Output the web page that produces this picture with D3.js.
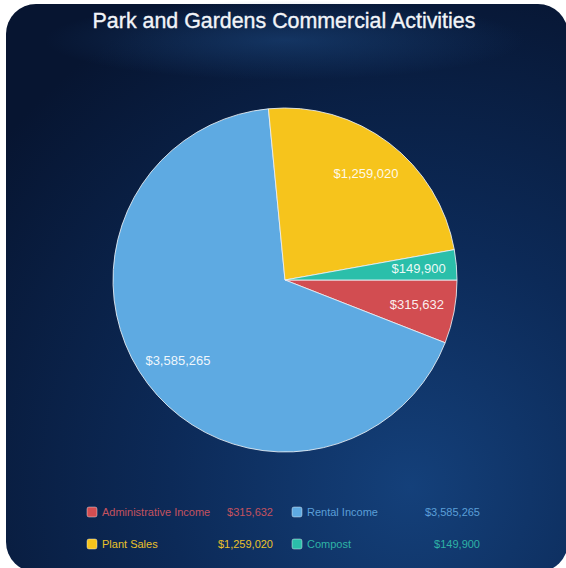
<!DOCTYPE html>
<html>
<head>
<meta charset="utf-8">
<script src="https://cdn.jsdelivr.net/npm/d3@7"></script>
<style>
  html, body { margin: 0; padding: 0; background: #ffffff; }
  svg { display: block; }
</style>
</head>
<body>
<svg id="chart" width="566" height="568"></svg>
<script>
// Commercial activity income by category
const categories = ["Administrative Income", "Rental Income", "Plant Sales", "Compost"];
const values = [315632, 3585265, 1259020, 149900];
const sliceColors = ["#d24d51", "#5eaae2", "#f6c41c", "#2bbfaa"];
const legendTextColors = ["#c4525f", "#5b9fd8", "#eac12a", "#2fb3a6"];
const valueLabels = ["$315,632", "$3,585,265", "$1,259,020", "$149,900"];
const title = "Park and Gardens Commercial Activities";

const svg = d3.select("#chart");

// Card background
const defs = svg.append("defs");
const bg = defs.append("radialGradient")
  .attr("id", "bgGrad")
  .attr("cx", "0.72").attr("cy", "0.85").attr("r", "0.95");
bg.append("stop").attr("offset", "0").attr("stop-color", "#14407a");
bg.append("stop").attr("offset", "0.45").attr("stop-color", "#0c2a58");
bg.append("stop").attr("offset", "1").attr("stop-color", "#071531");

const glow = defs.append("radialGradient")
  .attr("id", "topGlow")
  .attr("cx", "0.5").attr("cy", "0.5").attr("r", "0.5");
glow.append("stop").attr("offset", "0").attr("stop-color", "#1d4a82").attr("stop-opacity", 0.55);
glow.append("stop").attr("offset", "1").attr("stop-color", "#1d4a82").attr("stop-opacity", 0);

svg.append("rect")
  .attr("x", 6).attr("y", 4)
  .attr("width", 562).attr("height", 568)
  .attr("rx", 30).attr("ry", 30)
  .attr("fill", "url(#bgGrad)");

svg.append("ellipse")
  .attr("cx", 285).attr("cy", 40)
  .attr("rx", 240).attr("ry", 40)
  .attr("fill", "url(#topGlow)");

// Title
svg.append("text")
  .attr("x", 284).attr("y", 28)
  .attr("text-anchor", "middle")
  .attr("font-family", "Liberation Sans, Arial, sans-serif")
  .attr("font-size", 21.4)
  .attr("fill", "#f2f4f8")
  .attr("stroke", "#f2f4f8")
  .attr("stroke-width", 0.35)
  .text(title);

// Pie
const cx = 285, cy = 280, R = 172;
const pie = d3.pie().sort(null)
  .startAngle(Math.PI / 2)
  .endAngle(Math.PI / 2 + 2 * Math.PI);
const arcs = pie(values);
const arc = d3.arc().innerRadius(0).outerRadius(R);
const labelArc = d3.arc().innerRadius(R * 0.78).outerRadius(R * 0.78);

const g = svg.append("g").attr("transform", `translate(${cx},${cy})`);
g.selectAll("path.slice")
  .data(arcs)
  .join("path")
  .attr("class", "slice")
  .attr("d", arc)
  .attr("fill", (d, i) => sliceColors[i])
  .attr("stroke", "rgba(235,240,245,0.85)")
  .attr("stroke-width", 1);

g.selectAll("text.val")
  .data(arcs)
  .join("text")
  .attr("class", "val")
  .attr("transform", d => `translate(${labelArc.centroid(d)})`)
  .attr("text-anchor", "middle")
  .attr("dy", "0.35em")
  .attr("font-family", "Liberation Sans, Arial, sans-serif")
  .attr("font-size", 13)
  .attr("fill", "#ffffff")
  .attr("fill-opacity", 0.92)
  .text((d, i) => valueLabels[i]);

// Legend: two columns, two rows
const legendCols = [87, 292];
const legendRows = [512, 544];
const valueRight = [273, 480];
const legend = svg.append("g")
  .attr("font-family", "Liberation Sans, Arial, sans-serif")
  .attr("font-size", 11);

categories.forEach((name, i) => {
  const col = i % 2, row = Math.floor(i / 2);
  const x = legendCols[col], y = legendRows[row];
  legend.append("rect")
    .attr("x", x).attr("y", y - 5)
    .attr("width", 10).attr("height", 10)
    .attr("rx", 2)
    .attr("fill", sliceColors[i])
    .attr("stroke", "rgba(255,255,255,0.5)")
    .attr("stroke-width", 0.8);
  legend.append("text")
    .attr("x", x + 15).attr("y", y)
    .attr("dy", "0.35em")
    .attr("fill", legendTextColors[i])
    .text(name);
  legend.append("text")
    .attr("x", valueRight[col]).attr("y", y)
    .attr("dy", "0.35em")
    .attr("text-anchor", "end")
    .attr("fill", legendTextColors[i])
    .text(valueLabels[i]);
});
</script>
</body>
</html>
